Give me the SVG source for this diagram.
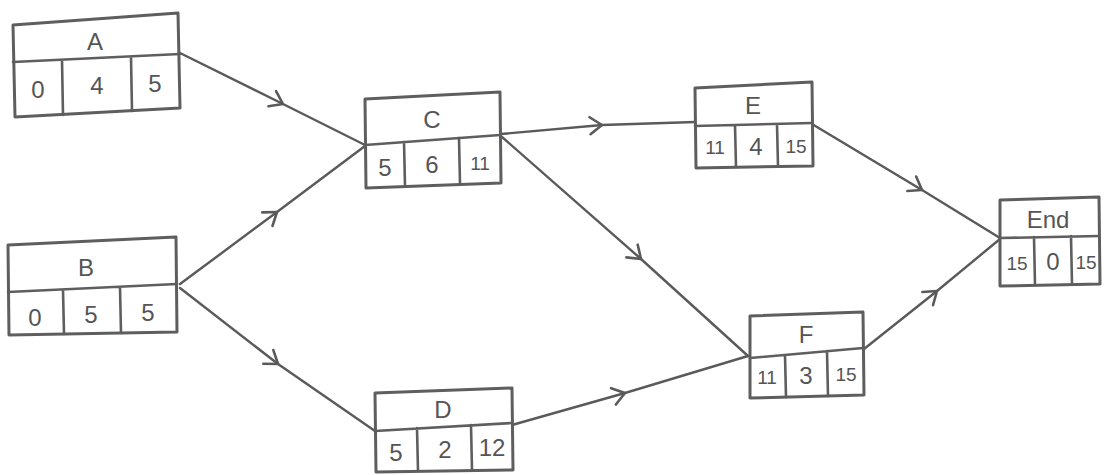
<svg xmlns="http://www.w3.org/2000/svg" width="1108" height="475" viewBox="0 0 1108 475">
  <style>
    .box { fill: #ffffff; stroke: #5e5e5e; stroke-width: 3; stroke-linejoin: round; stroke-linecap: round; }
    .div { fill: none; stroke: #5e5e5e; stroke-width: 2.6; stroke-linecap: round; }
    .edge { fill: none; stroke: #5a5a5a; stroke-width: 2.4; stroke-linecap: round; stroke-linejoin: round; marker-mid: url(#chev); }
    .lbl { font-family: "Liberation Sans", Arial, sans-serif; font-size: 24px; fill: #555555; text-anchor: middle; }
    .num { font-family: "Liberation Sans", Arial, sans-serif; font-size: 24px; fill: #555555; text-anchor: middle; }
    .sm { font-size: 19px; }
  </style>
  <defs>
    <!-- open chevron drawn part-way along each connector -->
    <marker id="chev" viewBox="-15 -11 18 22" markerWidth="18" markerHeight="22" refX="0" refY="0" orient="auto" markerUnits="userSpaceOnUse">
      <path d="M-12,-8.5 L0,0 L-12,8.5" fill="none" stroke="#5a5a5a" stroke-width="2.6" stroke-linecap="round" stroke-linejoin="round"/>
    </marker>
  </defs>
  <rect width="1108" height="475" fill="#ffffff"/>

  <!-- connectors -->
  <g id="connectors">
    <path class="edge" d="M180,53 L283,104 L365,145"/>
    <path class="edge" d="M180,284 L277,212 L365,146"/>
    <path class="edge" d="M180,288 L278,364 L375,431"/>
    <path class="edge" d="M501,134 L602,125 L695,122"/>
    <path class="edge" d="M502,137 L641,259 L748,356"/>
    <path class="edge" d="M512,425 L625,393 L748,356"/>
    <path class="edge" d="M812,124 L922,190 L1000,238"/>
    <path class="edge" d="M864,349 L937,291 L1000,239"/>
  </g>

  <!-- activity A -->
  <g id="node-A">
    <path class="box" d="M13,25 L178,13 L180,108 L15,117 Z"/>
    <path class="div" d="M13,62 L180,54 M62,60 L63,115 M131,57 L132,111"/>
    <text class="lbl" x="95" y="50">A</text>
    <text class="num" x="38" y="98">0</text>
    <text class="num" x="97" y="94">4</text>
    <text class="num" x="155" y="92">5</text>
  </g>

  <!-- activity B -->
  <g id="node-B">
    <path class="box" d="M8,245 L176,237 L177,332 L9,335 Z"/>
    <path class="div" d="M8,292 L177,284 M63,290 L64,334 M120,287 L121,333"/>
    <text class="lbl" x="86" y="276">B</text>
    <text class="num" x="35" y="326">0</text>
    <text class="num" x="91" y="323">5</text>
    <text class="num" x="148" y="321">5</text>
  </g>

  <!-- activity C -->
  <g id="node-C">
    <path class="box" d="M365,99 L500,92 L501,183 L366,188 Z"/>
    <path class="div" d="M365,145 L500,135 M404,142 L405,186 M459,138 L460,184"/>
    <text class="lbl" x="432" y="128">C</text>
    <text class="num" x="385" y="176">5</text>
    <text class="num" x="432" y="173">6</text>
    <text class="num sm" x="480" y="170">11</text>
  </g>

  <!-- activity D -->
  <g id="node-D">
    <path class="box" d="M375,393 L512,388 L513,470 L376,472 Z"/>
    <path class="div" d="M375,431 L512,423 M417,428 L418,471 M471,425 L472,470"/>
    <text class="lbl" x="443" y="418">D</text>
    <text class="num" x="396" y="461">5</text>
    <text class="num" x="445" y="458">2</text>
    <text class="num" x="492" y="456">12</text>
  </g>

  <!-- activity E -->
  <g id="node-E">
    <path class="box" d="M695,88 L812,82 L813,166 L696,168 Z"/>
    <path class="div" d="M695,126 L812,123 M735,125 L736,167 M777,124 L778,166"/>
    <text class="lbl" x="753" y="114">E</text>
    <text class="num sm" x="715" y="154">11</text>
    <text class="num" x="756" y="155">4</text>
    <text class="num sm" x="796" y="153">15</text>
  </g>

  <!-- activity F -->
  <g id="node-F">
    <path class="box" d="M750,316 L863,312 L864,395 L750,398 Z"/>
    <path class="div" d="M750,358 L863,348 M785,355 L786,397 M827,351 L828,396"/>
    <text class="lbl" x="806" y="343">F</text>
    <text class="num sm" x="767" y="384">11</text>
    <text class="num" x="806" y="384">3</text>
    <text class="num sm" x="846" y="381">15</text>
  </g>

  <!-- finish node -->
  <g id="node-End">
    <path class="box" d="M1000,200 L1099,197 L1100,284 L1000,286 Z"/>
    <path class="div" d="M1000,238 L1099,236 M1034,237 L1035,285 M1071,236 L1072,284"/>
    <text class="lbl" x="1048" y="228">End</text>
    <text class="num sm" x="1017" y="270">15</text>
    <text class="num" x="1053" y="270">0</text>
    <text class="num sm" x="1086" y="269">15</text>
  </g>
</svg>
